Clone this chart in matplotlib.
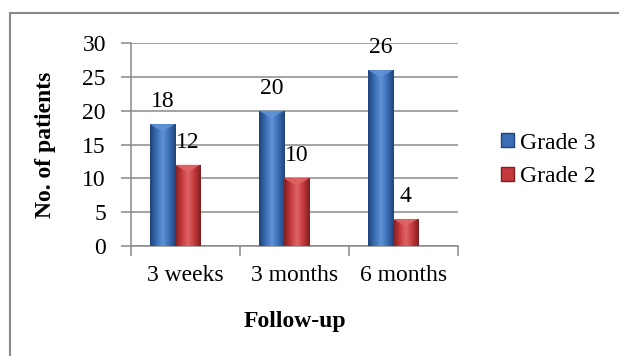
import matplotlib
matplotlib.use("Agg")
import matplotlib.pyplot as plt
import numpy as np
from matplotlib.patches import Rectangle, Polygon
from matplotlib.colors import LinearSegmentedColormap

plt.rcParams['font.family'] = ['Liberation Serif', 'DejaVu Serif']

periods = ['3 weeks', '3 months', '6 months']
grade3 = [18, 20, 26]
grade2 = [12, 10, 4]

# (dark edge, body, light centre) for the shaded bars
blue = ('#1f4478', '#3a6db5', '#5f93d6')
red = ('#7f1e20', '#c4393c', '#e06466')

FS = 17

fig = plt.figure(figsize=(6.19, 3.56), dpi=100)
ax = fig.add_axes([0.2116, 0.309, 0.5283, 0.5702])

x = np.arange(len(periods))
width = 0.23
shift = -0.096


def shaded_bars(xs, vals, shades, label):
    bars = ax.bar(xs, vals, width, color=shades[1], edgecolor=shades[0],
                  linewidth=0.6, label=label, zorder=3)
    cmap = LinearSegmentedColormap.from_list(
        'b', [shades[0], shades[1], shades[2], shades[1], shades[0]])
    grad = np.linspace(0, 1, 64).reshape(1, -1)
    for b in bars:
        x0, y0 = b.get_x(), b.get_y()
        w, h = b.get_width(), b.get_height()
        im = ax.imshow(grad, cmap=cmap, aspect='auto', zorder=4,
                       extent=(x0, x0 + w, y0, y0 + h))
        im.set_clip_path(b)
        # bevelled top of the bar
        tri = Polygon([(x0, y0 + h), (x0 + w, y0 + h), (x0 + w / 2, y0 + h - 1.1)],
                      closed=True, facecolor=shades[2], edgecolor='none',
                      alpha=0.9, zorder=5)
        ax.add_patch(tri)
    return bars


b3 = shaded_bars(x + shift - width / 2, grade3, blue, 'Grade 3')
b2 = shaded_bars(x + shift + width / 2, grade2, red, 'Grade 2')

for bars, vals in ((b3, grade3), (b2, grade2)):
    for b, v in zip(bars, vals):
        ax.annotate(str(v), (b.get_x() + b.get_width() / 2, v),
                    xytext=(0, 12.3), textcoords='offset points',
                    ha='center', va='baseline', fontsize=FS, zorder=6)

ax.set_xlim(-0.5, 2.5)
ax.set_ylim(0, 30)
ax.set_yticks(range(0, 31, 5))
ax.yaxis.grid(True, color='#8a8a8a', linewidth=1.1, zorder=0)
ax.set_axisbelow(True)

ax.set_xticks(x)
ax.set_xticklabels(periods)
ax.set_xticks([-0.5, 0.5, 1.5, 2.5], minor=True)
ax.tick_params(axis='x', which='major', length=0, pad=14, labelsize=FS)
ax.tick_params(axis='x', which='minor', length=7, color='#8a8a8a', width=1.1)
ax.tick_params(axis='y', length=7, color='#8a8a8a', width=1.1, pad=11,
               labelsize=FS)

for s in ('top', 'right'):
    ax.spines[s].set_visible(False)
for s in ('left', 'bottom'):
    ax.spines[s].set_color('#8a8a8a')
    ax.spines[s].set_linewidth(1.1)

ax.set_ylabel('No. of patients', fontsize=FS, fontweight='bold', va='center')
ax.yaxis.set_label_coords(-0.26, 0.5)
ax.set_xlabel('Follow-up', fontsize=FS, fontweight='bold', va='center')
ax.xaxis.set_label_coords(0.5, -0.374)

handles = [Rectangle((0, 0), 1, 1, facecolor=blue[1], edgecolor=blue[0]),
           Rectangle((0, 0), 1, 1, facecolor=red[1], edgecolor=red[0])]
fig.legend(handles, ['Grade 3', 'Grade 2'], loc='center left',
           bbox_to_anchor=(501 / 619, 1 - 160 / 356), frameon=False,
           fontsize=FS, handlelength=0.56, handleheight=0.56,
           handletextpad=0.25, labelspacing=0.55, borderpad=0,
           borderaxespad=0)

# outer frame
fig.add_artist(Rectangle((10 / 619, -0.1), 1.2, 1 - 12.5 / 356 + 0.1,
                         transform=fig.transFigure, fill=False,
                         edgecolor='#8a8a8a', linewidth=1.5))

fig.savefig('out.png', dpi=100)
